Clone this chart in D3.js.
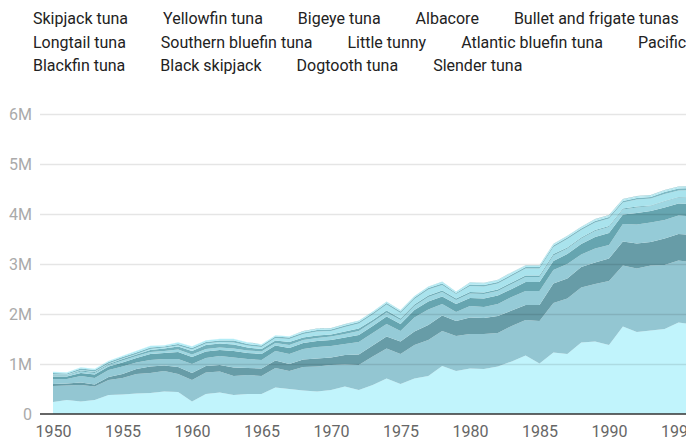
<!DOCTYPE html>
<html>
<head>
<meta charset="utf-8">
<script src="https://cdn.jsdelivr.net/npm/d3@7"></script>
<style>
  body { margin: 0; overflow: hidden; background: #fff; font-family: Roboto, sans-serif; }
  #chart { position: relative; width: 686px; height: 439px; }
  .legend { position: absolute; left: 33px; top: 7px; width: 750px; display: flex; flex-wrap: wrap; column-gap: 35px; }
  .legend div { font-size: 16px; line-height: 23.5px; color: #222; white-space: nowrap; }
</style>
</head>
<body>
<div id="chart"></div>
<script>
// catches in millions of tonnes, 1950 - 1996
const years = d3.range(1950, 1997);

const skipjack = [.24,.28,.25,.28,.38,.39,.41,.42,.45,.44,.25,.40,.43,.38,.40,.40,.53,.50,.47,.45,.48,.55,.48,.58,.71,.60,.71,.76,.96,.86,.91,.90,.95,1.05,1.17,1.01,1.23,1.20,1.43,1.45,1.38,1.75,1.64,1.67,1.70,1.83,1.79];
const yellowfin = [.32,.29,.33,.27,.30,.33,.39,.40,.41,.36,.43,.43,.42,.38,.38,.36,.39,.36,.47,.50,.50,.44,.50,.57,.60,.60,.67,.72,.70,.70,.69,.70,.67,.71,.71,.85,.99,1.11,1.10,1.15,1.28,1.22,1.27,1.30,1.28,1.24,1.24];
const bigeye = [.04,.04,.05,.04,.06,.08,.10,.13,.11,.14,.14,.13,.13,.17,.14,.15,.15,.14,.15,.16,.15,.19,.21,.22,.24,.25,.27,.30,.31,.30,.33,.32,.34,.31,.30,.32,.39,.40,.41,.43,.45,.48,.50,.47,.53,.53,.55];
const albacore = [.10,.09,.13,.13,.14,.15,.13,.13,.13,.16,.18,.16,.18,.20,.18,.17,.19,.20,.21,.23,.23,.22,.25,.25,.25,.21,.28,.31,.23,.18,.23,.22,.24,.27,.28,.28,.27,.29,.25,.28,.27,.35,.38,.39,.37,.37,.37];
const bullet = [.05,.05,.06,.07,.07,.08,.09,.12,.12,.14,.14,.13,.12,.13,.12,.12,.11,.12,.12,.12,.12,.13,.14,.14,.15,.14,.15,.16,.15,.16,.16,.17,.17,.16,.18,.18,.18,.20,.21,.23,.24,.19,.23,.23,.25,.24,.25];
const longtail = [.02,.02,.03,.03,.03,.04,.04,.04,.04,.05,.05,.05,.05,.05,.05,.05,.05,.06,.06,.06,.07,.07,.08,.08,.08,.08,.08,.09,.09,.08,.09,.09,.09,.10,.10,.10,.11,.11,.11,.12,.12,.10,.11,.10,.12,.12,.12];
const southernBluefin = [.01,.01,.02,.02,.02,.03,.03,.04,.05,.06,.07,.08,.08,.08,.06,.05,.05,.06,.05,.05,.04,.05,.05,.04,.04,.03,.03,.03,.03,.03,.03,.03,.03,.03,.03,.03,.03,.02,.02,.02,.02,.02,.02,.01,.01,.01,.01];
const littleTunny = [.01,.01,.01,.01,.01,.01,.01,.02,.02,.02,.03,.03,.03,.04,.04,.04,.05,.06,.07,.08,.07,.09,.10,.11,.12,.11,.11,.12,.11,.09,.12,.12,.12,.13,.14,.14,.14,.17,.15,.15,.15,.12,.14,.14,.14,.13,.15];
const atlanticBluefin = [.03,.02,.03,.03,.03,.03,.03,.03,.02,.03,.03,.03,.03,.04,.03,.03,.03,.03,.03,.03,.03,.03,.03,.03,.03,.03,.03,.03,.03,.02,.03,.03,.03,.03,.03,.03,.03,.03,.03,.03,.03,.03,.03,.03,.04,.04,.04];
const pacificBluefin = [.02,.02,.02,.02,.02,.02,.03,.03,.02,.03,.03,.03,.03,.03,.03,.02,.02,.02,.02,.02,.02,.02,.02,.02,.02,.02,.02,.02,.03,.02,.03,.03,.03,.03,.02,.02,.02,.02,.02,.02,.02,.02,.02,.02,.02,.02,.02];
const blackfin = [.002,.002,.002,.002,.002,.002,.002,.002,.002,.002,.002,.002,.002,.002,.002,.002,.002,.002,.002,.002,.003,.003,.003,.003,.003,.003,.003,.003,.003,.003,.005,.005,.005,.005,.005,.005,.005,.005,.005,.005,.006,.006,.006,.006,.006,.006,.006];
const blackSkipjack = [.002,.002,.002,.002,.002,.002,.002,.002,.002,.002,.003,.003,.003,.003,.003,.003,.003,.003,.004,.004,.004,.004,.005,.005,.005,.005,.005,.005,.005,.005,.006,.006,.006,.006,.007,.007,.007,.007,.007,.008,.008,.008,.008,.008,.008,.008,.008];
const dogtooth = [.001,.001,.001,.001,.001,.001,.001,.001,.001,.001,.001,.001,.001,.001,.001,.001,.001,.001,.001,.001,.002,.002,.002,.002,.002,.002,.002,.002,.002,.002,.002,.002,.003,.003,.003,.003,.003,.003,.003,.003,.003,.003,.003,.003,.003,.003,.003];
const slender = [.001,.001,.001,.001,.001,.001,.001,.001,.001,.001,.001,.001,.001,.001,.001,.001,.001,.001,.001,.001,.002,.002,.002,.002,.002,.002,.002,.002,.002,.002,.002,.002,.002,.002,.002,.002,.002,.002,.002,.002,.002,.002,.002,.002,.002,.002,.002];

const species = ["Skipjack tuna", "Yellowfin tuna", "Bigeye tuna", "Albacore", "Bullet and frigate tunas",
  "Longtail tuna", "Southern bluefin tuna", "Little tunny", "Atlantic bluefin tuna", "Pacific bluefin tuna",
  "Blackfin tuna", "Black skipjack", "Dogtooth tuna", "Slender tuna"];
const seriesValues = [skipjack, yellowfin, bigeye, albacore, bullet, longtail, southernBluefin, littleTunny,
  atlanticBluefin, pacificBluefin, blackfin, blackSkipjack, dogtooth, slender];
const colors = ["#c1f4fc", "#93c6d2", "#679ca7", "#95cbd7", "#66a5b0", "#9ed7e2", "#72b0bb",
  "#a9e3ed", "#7db9c4", "#b2ecf6", "#86c0ca", "#b8f0f8", "#8fc6d0", "#6aa3ae"];

const yTicks = [0, 1, 2, 3, 4, 5, 6];
const xTicks = [1950, 1955, 1960, 1965, 1970, 1975, 1980, 1985, 1990, 1995];

const table = years.map((yr, i) => {
  const row = { year: yr };
  species.forEach((s, k) => { row[s] = seriesValues[k][i]; });
  return row;
});

const container = d3.select("#chart");

const legend = container.append("div").attr("class", "legend");
legend.selectAll("div").data(species).enter().append("div").text(d => d);

const svg = container.append("svg")
  .attr("width", 800)
  .attr("height", 439)
  .style("position", "absolute")
  .style("left", 0)
  .style("top", 0);

const x = d3.scaleLinear().domain([1950, 1996]).range([53, 692.4]);
const y = d3.scaleLinear().domain([0, 6]).range([414, 114]);
const color = d3.scaleOrdinal().domain(species).range(colors);

const stacked = d3.stack().keys(species)(table);

const area = d3.area()
  .x(d => x(d.data.year))
  .y0(d => y(d[0]))
  .y1(d => y(d[1]));

svg.append("g")
  .selectAll("path")
  .data(stacked)
  .enter()
  .append("path")
  .attr("d", area)
  .attr("fill", d => color(d.key));

// grid on top, faint so the areas show through
const yAxis = svg.append("g")
  .attr("transform", "translate(40,0)")
  .call(d3.axisLeft(y).tickValues(yTicks).tickSize(-760).tickPadding(8)
    .tickFormat(d => d === 0 ? "0" : d + "M"));
yAxis.select(".domain").remove();
yAxis.selectAll(".tick line").attr("stroke", "#000").attr("stroke-opacity", 0.1).attr("stroke-width", 1.5);
yAxis.selectAll(".tick text")
  .attr("fill", "#aaa")
  .attr("font-size", 16)
  .attr("font-family", "Roboto, sans-serif");
yAxis.selectAll(".tick").filter(d => d === 0).select("line").remove();

svg.append("line")
  .attr("x1", 40).attr("x2", 800)
  .attr("y1", y(0)).attr("y2", y(0))
  .attr("stroke", "#333").attr("stroke-width", 1.5);

const xAxis = svg.append("g")
  .attr("transform", `translate(0,${y(0)})`)
  .call(d3.axisBottom(x).tickValues(xTicks).tickSize(0).tickPadding(12).tickFormat(d3.format("d")));
xAxis.select(".domain").remove();
xAxis.selectAll(".tick text")
  .attr("fill", "#666")
  .attr("font-size", 16)
  .attr("font-family", "Roboto, sans-serif");
</script>
</body>
</html>
